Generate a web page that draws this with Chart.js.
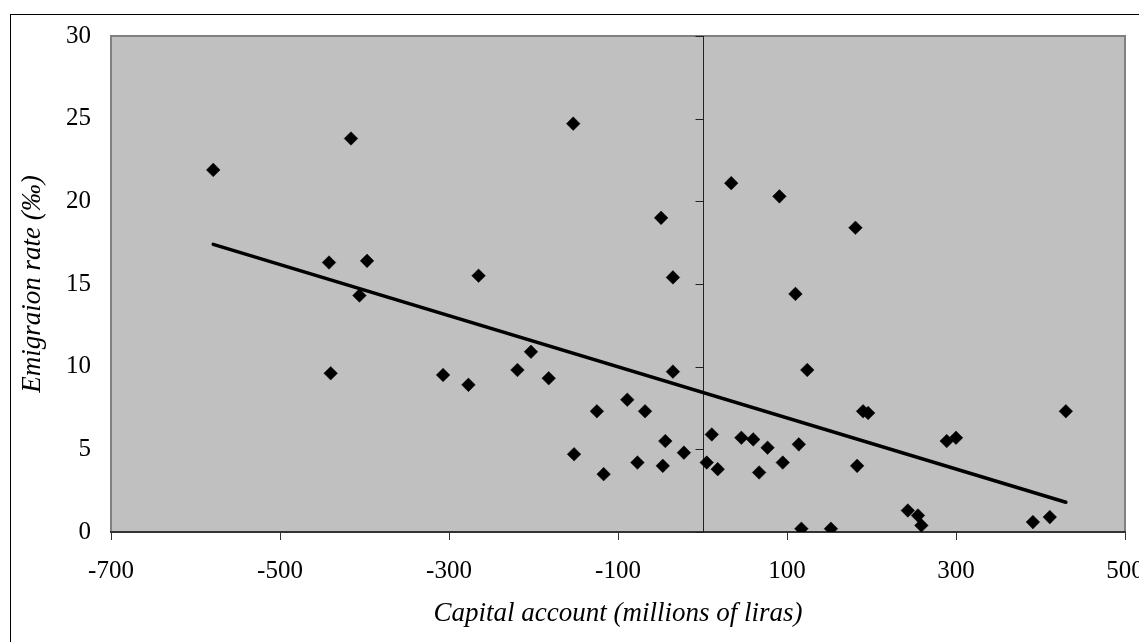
<!DOCTYPE html>
<html>
<head>
<meta charset="utf-8">
<script src="https://cdn.jsdelivr.net/npm/chart.js@4.4.1/dist/chart.umd.min.js"></script>
<style>
  html, body { margin: 0; padding: 0; overflow: hidden; background: #fff; }
  #wrap { width: 1200px; height: 642px; position: relative; }
</style>
</head>
<body>
<div id="wrap"><canvas id="emigChart" width="1200" height="642"></canvas></div>
<script>
// Capital account (millions of liras) vs emigration rate (per mille)
const capital = [-579, -442, -440, -416, -406, -397, -307, -277, -265, -219, -203, -182, -153, -152,
  -125, -117, -89, -77, -68, -49, -47, -44, -35, -35, -22, 5, 11, 18, 34, 46, 60, 67, 77, 91, 95,
  110, 114, 117, 124, 152, 181, 183, 190, 196, 243, 255, 259, 289, 300, 391, 411, 430];
const emigration = [21.9, 16.3, 9.6, 23.8, 14.3, 16.4, 9.5, 8.9, 15.5, 9.8, 10.9, 9.3, 24.7, 4.7,
  7.3, 3.5, 8.0, 4.2, 7.3, 19.0, 4.0, 5.5, 15.4, 9.7, 4.8, 4.2, 5.9, 3.8, 21.1, 5.7, 5.6, 3.6, 5.1, 20.3, 4.2,
  14.4, 5.3, 0.2, 9.8, 0.2, 18.4, 4.0, 7.3, 7.2, 1.3, 1.0, 0.4, 5.5, 5.7, 0.6, 0.9, 7.3];

// linear trendline end points
const trendX = [-579, 430];
const trendY = [17.4, 1.8];

const xTicks = [-700, -500, -300, -100, 100, 300, 500];
const yTicks = [0, 5, 10, 15, 20, 25, 30];

const serif = "'Liberation Serif', 'Times New Roman', serif";

// gray plot area, frame, and the vertical axis line crossing at x = 0
const plotDecor = {
  id: 'plotDecor',
  beforeDraw(chart) {
    const { ctx, chartArea: a } = chart;
    ctx.save();
    ctx.strokeStyle = '#000';
    ctx.lineWidth = 1;
    ctx.strokeRect(10.5, 14.5, 1400, 900);
    ctx.fillStyle = '#c0c0c0';
    ctx.fillRect(a.left, a.top, a.right - a.left, a.bottom - a.top);
    ctx.strokeStyle = '#808080';
    ctx.lineWidth = 2;
    ctx.strokeRect(a.left, a.top, a.right - a.left, a.bottom - a.top);
    ctx.restore();
  },
  beforeDatasetsDraw(chart) {
    const { ctx, chartArea: a, scales } = chart;
    const x0 = Math.round(scales.x.getPixelForValue(0)) + 0.5;
    ctx.save();
    ctx.strokeStyle = '#222';
    ctx.lineWidth = 1;
    ctx.beginPath();
    ctx.moveTo(x0, a.top);
    ctx.lineTo(x0, a.bottom);
    yTicks.forEach(v => {
      const y = Math.round(scales.y.getPixelForValue(v)) + 0.5;
      ctx.moveTo(x0 - 8, y);
      ctx.lineTo(x0, y);
    });
    ctx.stroke();
    ctx.restore();
  }
};

let ctx = document.getElementById('emigChart').getContext('2d');
let emigChart = new Chart(ctx, {
  type: 'scatter',
  data: {
    datasets: [{
      type: 'line',
      label: 'Trend',
      data: trendX.map((x, i) => ({ x: x, y: trendY[i] })),
      borderColor: '#000',
      borderWidth: 3.5,
      borderCapStyle: 'round',
      pointRadius: 0,
      fill: false,
      order: 0
    }, {
      label: 'Emigration rate',
      data: capital.map((x, i) => ({ x: x, y: emigration[i] })),
      pointStyle: 'rectRot',
      pointRadius: 6.8,
      pointBackgroundColor: '#000',
      pointBorderColor: '#000',
      pointBorderWidth: 0.5,
      order: 1
    }]
  },
  options: {
    responsive: false,
    animation: false,
    events: [],
    layout: { padding: { left: 0, top: 36, right: 75, bottom: 0 } },
    plugins: { legend: { display: false }, tooltip: { enabled: false } },
    scales: {
      x: {
        type: 'linear',
        min: -700,
        max: 500,
        afterBuildTicks: scale => { scale.ticks = xTicks.map(v => ({ value: v })); },
        afterFit: scale => { scale.height = 110; },
        grid: { display: true, drawOnChartArea: false, drawTicks: true, tickLength: 8, color: '#333', lineWidth: 1 },
        border: { display: true, color: '#333', width: 2 },
        ticks: { color: '#000', font: { family: serif, size: 25 }, padding: 16, maxRotation: 0 },
        title: {
          display: true,
          text: 'Capital account (millions of liras)',
          color: '#000',
          font: { family: serif, size: 27, style: 'italic' },
          padding: { top: 0, bottom: 12 }
        }
      },
      y: {
        type: 'linear',
        min: 0,
        max: 30,
        afterBuildTicks: scale => { scale.ticks = yTicks.map(v => ({ value: v })); },
        afterFit: scale => { scale.width = 111; },
        grid: { display: false, drawTicks: false },
        border: { display: false },
        ticks: { color: '#000', font: { family: serif, size: 25 }, padding: 20 },
        title: {
          display: true,
          text: 'Emigraion rate (‰)',
          color: '#000',
          font: { family: serif, size: 27, style: 'italic' },
          padding: { top: 17, bottom: 0 }
        }
      }
    }
  },
  plugins: [plotDecor]
});
</script>
</body>
</html>
